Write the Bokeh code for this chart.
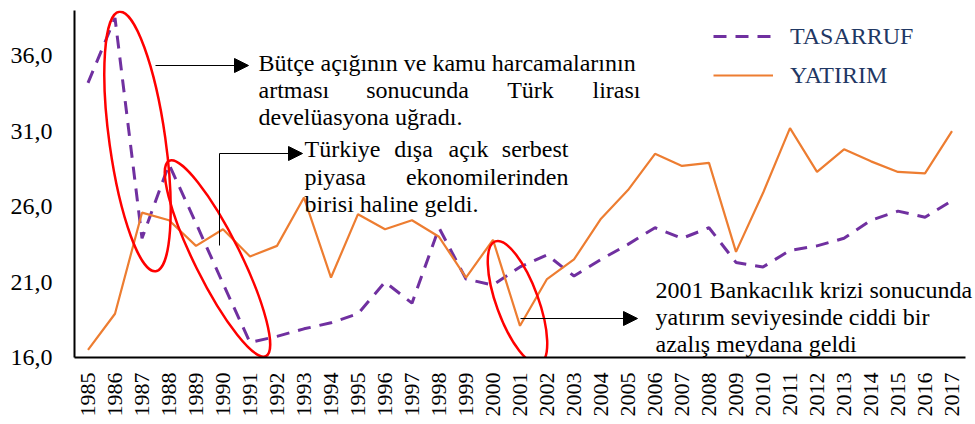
import math
from bokeh.plotting import figure
from bokeh.models import (FixedTicker, Range1d, Legend, LegendItem, Arrow, NormalHead, Label)
from bokeh.embed import file_html
from bokeh.resources import INLINE

years = list(range(1985, 2018))
tasarruf = [34.2, 38.5, 23.9, 28.8, 24.9, 20.9, 17.0, 17.4, 17.9, 18.3, 18.9, 21.0, 19.6,
            24.6, 21.2, 20.8, 22.0, 22.8, 21.4, 22.5, 23.5, 24.6, 23.9, 24.6, 22.3, 22.0,
            23.1, 23.4, 23.9, 25.1, 25.7, 25.3, 26.4]
yatirim = [16.5, 18.9, 25.6, 25.1, 23.4, 24.5, 22.7, 23.4, 26.6, 21.3, 25.5, 24.5, 25.1,
           24.0, 21.3, 23.8, 18.1, 21.2, 22.5, 25.2, 27.1, 29.5, 28.7, 28.9, 23.0, 26.9,
           31.2, 28.3, 29.8, 29.0, 28.3, 28.2, 31.0]
y_ticks = [16, 21, 26, 31, 36]
y_tick_labels = ["16,0", "21,0", "26,0", "31,0", "36,0"]
series_names = ["TASARRUF", "YATIRIM"]

FONT = "Liberation Serif"

# frame edges in page pixels (frame runs to the page edge so the right-hand note is not clipped)
FL, FR, FT, FB = 74, 975, 10, 357
W, H = 975, 424
PXY = 27.0  # pixels per year

p = figure(width=W, height=H, output_backend="svg", toolbar_location=None,
           x_range=Range1d(1984.5, 1984.5 + (FR - FL) / PXY), y_range=Range1d(16, 39),
           min_border_left=FL, min_border_right=W - FR, min_border_top=FT,
           min_border_bottom=H - FB)
p.outline_line_color = None
p.xgrid.visible = False
p.ygrid.visible = False

def dx(px):
    return 1984.5 + (px - FL) / PXY
def dy(py):
    return 16 + (FB - py) * 23.0 / (FB - FT)

r1 = p.line(years, tasarruf, line_color="#7030A0", line_width=3, line_dash="13 9")
r2 = p.line(years, yatirim, line_color="#ED7D31", line_width=2.2)

# axes
p.xaxis.ticker = FixedTicker(ticks=years)
p.xaxis.bounds = (1984.5, 2017.5)
p.xaxis.major_label_overrides = {y: str(y) for y in years}
p.xaxis.major_label_orientation = math.pi / 2
p.yaxis.ticker = FixedTicker(ticks=y_ticks)
p.yaxis.major_label_overrides = dict(zip(y_ticks, y_tick_labels))
for ax in (p.xaxis[0], p.yaxis[0]):
    ax.axis_line_color = "black"
    ax.axis_line_width = 2
    ax.major_tick_out = 0
    ax.major_tick_in = 0
    ax.minor_tick_out = 0
    ax.minor_tick_in = 0
    ax.major_label_text_font = FONT
    ax.major_label_text_color = "black"
p.xaxis.major_label_text_font_size = "22px"
p.yaxis.major_label_text_font_size = "24px"
p.xaxis.major_label_standoff = 15
p.yaxis.major_label_standoff = 22

# legend
legend = Legend(items=[LegendItem(label=series_names[0], renderers=[r1]),
                       LegendItem(label=series_names[1], renderers=[r2])],
                location=(639, 267), orientation="vertical",
                glyph_width=60, glyph_height=30, label_height=30, spacing=9,
                label_standoff=17, padding=0, margin=0,
                border_line_color=None, background_fill_alpha=0,
                label_text_font=FONT, label_text_font_size="24px",
                label_text_color="#1F3864")
p.add_layout(legend)

# red ellipses (center px, width px, height px, tilt deg)
ellipses = [(137, 141, 56, 262, 8), (217, 258, 46, 218, 26.4), (517, 302, 42, 130, 20)]
p.ellipse(x=[dx(e[0]) for e in ellipses], y=[dy(e[1]) for e in ellipses],
          width=[e[2] for e in ellipses], height=[e[3] for e in ellipses],
          angle=[math.radians(e[4]) for e in ellipses],
          width_units="screen", height_units="screen",
          fill_color=None, line_color="#FF0000", line_width=2.5)

# arrows
arrows = [(155, 65, 248, 65), (219, 153, 302, 153), (520, 318, 637, 318)]
for x0, y0, x1, y1 in arrows:
    p.add_layout(Arrow(end=NormalHead(size=14, fill_color="black", line_color="black"),
                       x_start=dx(x0), y_start=dy(y0), x_end=dx(x1), y_end=dy(y1),
                       line_color="black", line_width=1))
p.line([dx(219), dx(219)], [dy(245), dy(153)], line_color="black", line_width=1)

# annotation texts (word-level placement to imitate justified lines)
ann = [
    ("Bütçe açığının ve kamu harcamalarının", 258, 62, "left"),
    ("artması", 258, 89, "left"),
    ("sonucunda", 417, 89, "center"),
    ("Türk", 530, 89, "center"),
    ("lirası", 640, 89, "right"),
    ("develüasyona uğradı.", 258, 116, "left"),
    ("Türkiye", 304, 148, "left"),
    ("dışa", 413, 148, "center"),
    ("açık", 468, 148, "center"),
    ("serbest", 568, 148, "right"),
    ("piyasa", 304, 176, "left"),
    ("ekonomilerinden", 568, 176, "right"),
    ("birisi haline geldi.", 304, 203, "left"),
    ("2001 Bankacılık krizi sonucunda", 655, 289, "left"),
    ("yatırım seviyesinde ciddi bir", 655, 316, "left"),
    ("azalış meydana geldi", 655, 343, "left"),
]
for t, px, py, align in ann:
    p.add_layout(Label(x=dx(px), y=dy(py), text=t, text_align=align,
                       text_baseline="alphabetic", text_font=FONT,
                       text_font_size="24px", text_color="black"))

open("out.html", "w").write(file_html(p, INLINE))
